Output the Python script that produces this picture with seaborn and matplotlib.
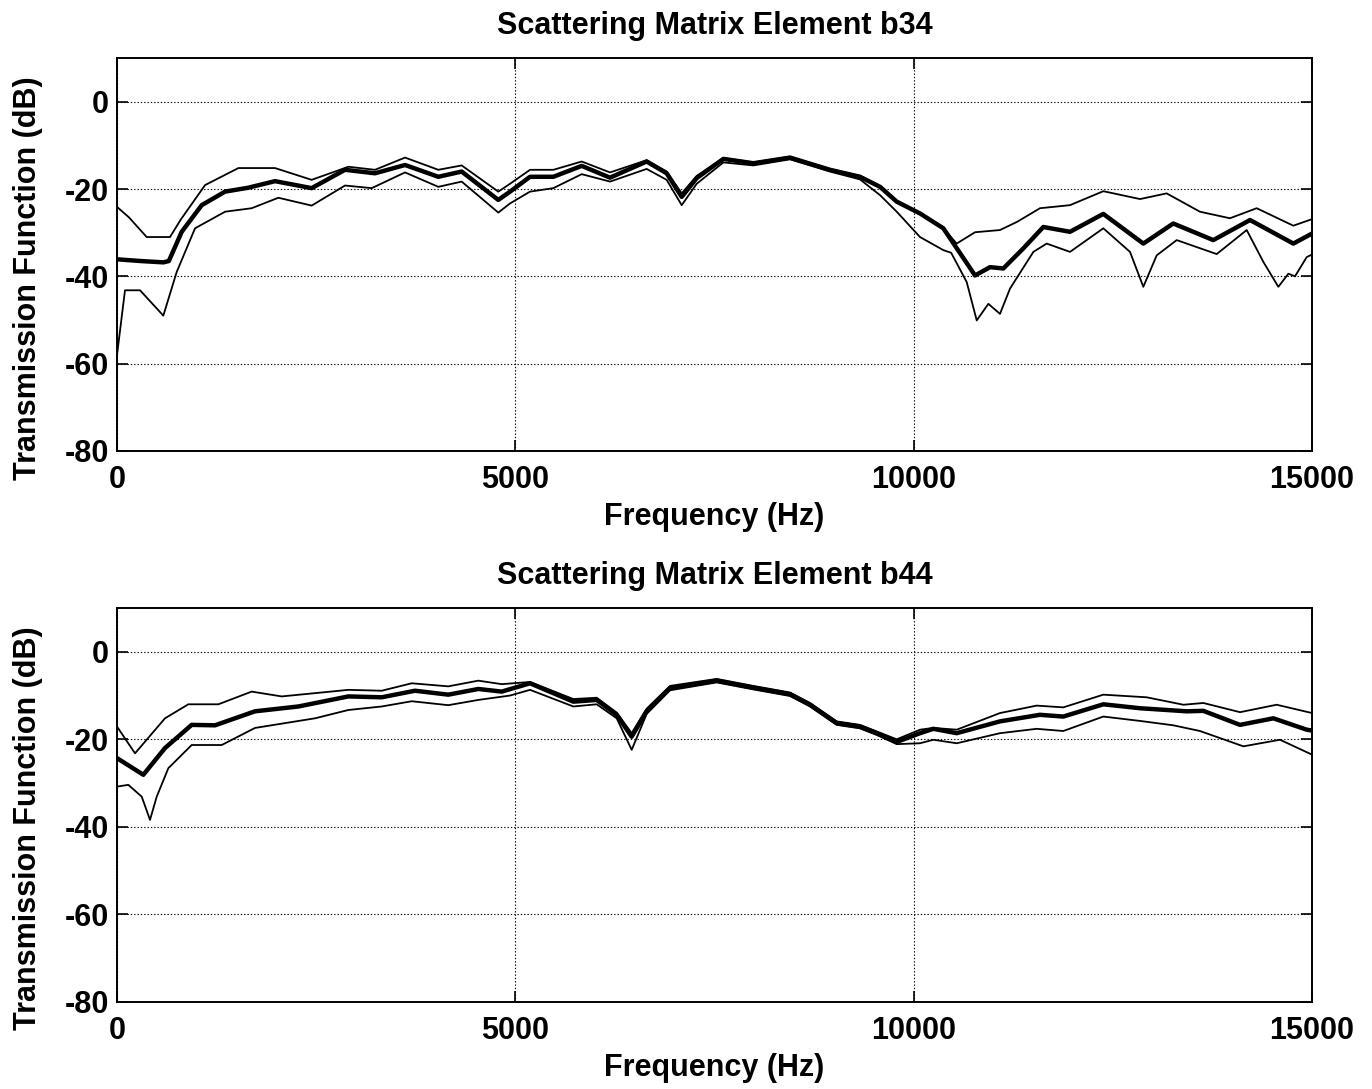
import numpy as np
import matplotlib
matplotlib.use("Agg")
import matplotlib.pyplot as plt
import seaborn as sns

# ---------------- data ----------------
titles = ["Scattering Matrix Element b34", "Scattering Matrix Element b44"]
xlabel = "Frequency (Hz)"
ylabel = "Transmission Function (dB)"
xticks = [0, 5000, 10000, 15000]
yticks = [-80, -60, -40, -20, 0]

# b34
b34_mean_f = [0, 300, 581, 650, 812, 1063, 1356, 1648, 1983, 2443, 2862, 3238, 3615, 4033, 4326, 4786,
              4933, 5184, 5477, 5833, 6188, 6648, 6899, 7088, 7276, 7611, 7987, 8447, 8949, 9326, 9577,
              9787, 10079, 10372, 10770, 10958, 11125, 11376, 11627, 11962, 12380, 12882, 13258, 13760,
              14222, 14765, 15000]
b34_mean_v = [-36.1, -36.5, -36.8, -36.5, -29.8, -23.7, -20.6, -19.7, -18.2, -19.8, -15.6, -16.4, -14.5,
              -17.2, -16.0, -22.5, -20.6, -17.2, -17.2, -14.7, -17.4, -13.7, -16.4, -21.8, -17.5, -13.1,
              -14.1, -12.8, -15.6, -17.2, -19.5, -22.9, -25.6, -29.0, -39.8, -37.9, -38.2, -33.6, -28.7,
              -29.8, -25.7, -32.5, -27.9, -31.7, -27.1, -32.5, -30.2]

b34_up_f = [0, 150, 372, 665, 800, 1105, 1523, 1983, 2443, 2904, 3238, 3615, 4033, 4326, 4786, 4933,
            5184, 5477, 5833, 6188, 6648, 6899, 7088, 7276, 7611, 7987, 8447, 8949, 9326, 9577, 9787,
            10079, 10372, 10539, 10770, 11083, 11300, 11585, 11962, 12380, 12841, 13175, 13593, 13969,
            14305, 14765, 15000]
b34_up_v = [-24.1, -26.5, -31.0, -31.0, -27.0, -19.1, -15.2, -15.2, -17.9, -14.9, -15.6, -12.8, -15.6,
            -14.6, -20.6, -18.8, -15.6, -15.6, -13.7, -16.2, -13.4, -16.0, -21.0, -17.0, -12.9, -13.9,
            -12.6, -15.4, -17.0, -19.3, -22.7, -25.6, -29.0, -32.5, -29.9, -29.4, -27.5, -24.4, -23.7,
            -20.5, -22.3, -21.0, -25.2, -26.7, -24.4, -28.4, -26.9]

b34_lo_f = [0, 100, 289, 581, 749, 979, 1356, 1690, 2025, 2443, 2862, 3197, 3615, 4033, 4326, 4786,
            4933, 5184, 5477, 5833, 6188, 6648, 6899, 7088, 7276, 7611, 7987, 8447, 8949, 9326, 9577,
            9787, 10079, 10372, 10470, 10665, 10791, 10937, 11083, 11209, 11502, 11669, 11962, 12380,
            12715, 12882, 13050, 13301, 13803, 14180, 14389, 14577, 14703, 14786, 14933, 15000]
b34_lo_v = [-58.0, -43.2, -43.2, -49.0, -39.0, -29.0, -25.2, -24.4, -22.0, -23.8, -19.2, -19.8, -16.2,
            -19.5, -18.3, -25.4, -23.3, -20.6, -19.8, -16.6, -18.3, -15.4, -17.9, -23.7, -18.8, -13.9,
            -14.6, -13.2, -16.0, -17.8, -21.4, -25.2, -31.0, -34.0, -34.6, -41.3, -50.1, -46.3, -48.6,
            -42.8, -34.4, -32.5, -34.4, -29.0, -34.4, -42.4, -35.2, -31.7, -34.9, -29.4, -36.7, -42.4,
            -39.4, -40.0, -35.6, -35.0]

# b44
b44_mean_f = [0, 330, 602, 937, 1230, 1732, 2276, 2904, 3322, 3740, 4158, 4535, 4828, 5184, 5728, 6021,
              6272, 6460, 6648, 6941, 7527, 7987, 8447, 8699, 9033, 9326, 9536, 9787, 10079, 10247,
              10540, 11083, 11585, 11878, 12380, 12841, 13427, 13636, 14096, 14514, 14933, 15000]
b44_mean_v = [-24.3, -28.1, -22.0, -16.7, -16.8, -13.6, -12.5, -10.2, -10.4, -8.9, -9.8, -8.5, -9.1, -7.2,
              -11.4, -11.0, -14.4, -19.4, -13.6, -8.3, -6.6, -8.2, -9.7, -12.1, -16.3, -17.1, -18.6,
              -20.6, -18.6, -17.6, -18.6, -15.9, -14.4, -14.8, -12.0, -12.9, -13.6, -13.5, -16.7, -15.2,
              -17.8, -18.0]

b44_up_f = [0, 226, 602, 895, 1272, 1690, 2067, 2904, 3322, 3699, 4158, 4535, 4828, 5184, 5728, 6021,
            6272, 6460, 6648, 6941, 7527, 7987, 8447, 8699, 9033, 9326, 9536, 9787, 10079, 10247, 10540,
            11083, 11543, 11878, 12380, 12924, 13385, 13636, 14096, 14556, 15000]
b44_up_v = [-17.1, -23.2, -15.2, -12.0, -12.0, -9.1, -10.2, -8.7, -8.9, -7.2, -7.9, -6.6, -7.4, -6.9,
            -10.8, -10.5, -13.9, -18.6, -13.0, -7.8, -6.2, -7.8, -9.3, -11.7, -15.9, -16.7, -18.2, -20.0,
            -17.8, -17.4, -17.8, -14.0, -12.3, -12.7, -9.8, -10.4, -12.1, -11.7, -13.8, -12.1, -14.0]

b44_lo_f = [0, 142, 310, 414, 498, 644, 937, 1314, 1732, 2485, 2904, 3322, 3699, 4158, 4535, 4933, 5184,
            5728, 6021, 6272, 6460, 6648, 6941, 7527, 7987, 8447, 8699, 9033, 9326, 9536, 9787, 10079,
            10247, 10540, 11083, 11543, 11878, 12380, 12841, 13259, 13593, 14138, 14598, 15000]
b44_lo_v = [-30.8, -30.4, -33.1, -38.4, -33.1, -26.6, -21.3, -21.3, -17.4, -15.2, -13.3, -12.5, -11.3,
            -12.2, -11.0, -10.0, -8.7, -12.5, -12.0, -15.2, -22.4, -14.2, -8.8, -7.0, -8.6, -10.1, -12.5,
            -16.7, -17.5, -19.0, -21.1, -20.9, -20.1, -20.9, -18.6, -17.6, -18.1, -14.8, -15.8, -16.8,
            -18.1, -21.6, -20.1, -23.5]

panels = [
    (titles[0], [(b34_up_f, b34_up_v, 1.3), (b34_lo_f, b34_lo_v, 1.3), (b34_mean_f, b34_mean_v, 3.2)]),
    (titles[1], [(b44_up_f, b44_up_v, 1.3), (b44_lo_f, b44_lo_v, 1.3), (b44_mean_f, b44_mean_v, 3.2)]),
]

# ---------------- style ----------------
sns.set_theme(style="ticks")
plt.rcParams['font.family'] = ['Liberation Sans', 'DejaVu Sans']
plt.rcParams['font.weight'] = 'bold'
plt.rcParams['text.color'] = 'black'
plt.rcParams['axes.labelcolor'] = 'black'
plt.rcParams['xtick.color'] = 'black'
plt.rcParams['ytick.color'] = 'black'
plt.rcParams['axes.linewidth'] = 1.4
plt.rcParams['xtick.direction'] = 'in'
plt.rcParams['ytick.direction'] = 'in'

fig = plt.figure(figsize=(13.72, 10.89), dpi=100)
rects = [[0.0853, 0.5859, 0.8710, 0.3608], [0.0853, 0.0799, 0.8710, 0.3618]]

FS = 22
for rect, (title, curves) in zip(rects, panels):
    ax = fig.add_axes(rect)
    for f, v, lw in curves:
        sns.lineplot(x=f, y=v, ax=ax, color='black', linewidth=lw, sort=True,
                     estimator=None, legend=False)
    ax.set_xlim(0, 15000)
    ax.set_ylim(-80, 10)
    ax.set_xticks(xticks)
    ax.set_yticks(yticks)
    ax.set_xticklabels([str(t) for t in xticks], fontsize=FS, fontweight='bold', color='black')
    ax.set_yticklabels([str(t) for t in yticks], fontsize=FS, fontweight='bold', color='black')
    ax.tick_params(axis='both', which='both', top=True, right=True, length=8,
                   width=1.2, color='black', labelcolor='black', pad=6)
    ax.tick_params(axis='x', pad=10)
    ax.grid(True, linestyle=(0, (1.2, 1.8)), color='black', linewidth=0.8)
    for s in ax.spines.values():
        s.set_color('black')
        s.set_linewidth(1.4)
    ax.set_title(title, fontsize=FS, fontweight='bold', pad=17, color='black')
    ax.set_xlabel(xlabel, fontsize=FS, fontweight='bold', labelpad=5, color='black')
    ax.set_ylabel(ylabel, fontsize=FS, fontweight='bold', color='black')
    ax.yaxis.set_label_coords(-0.062, 0.44)
    ax.set_facecolor('white')

fig.savefig("out.png", dpi=100, facecolor='white')
